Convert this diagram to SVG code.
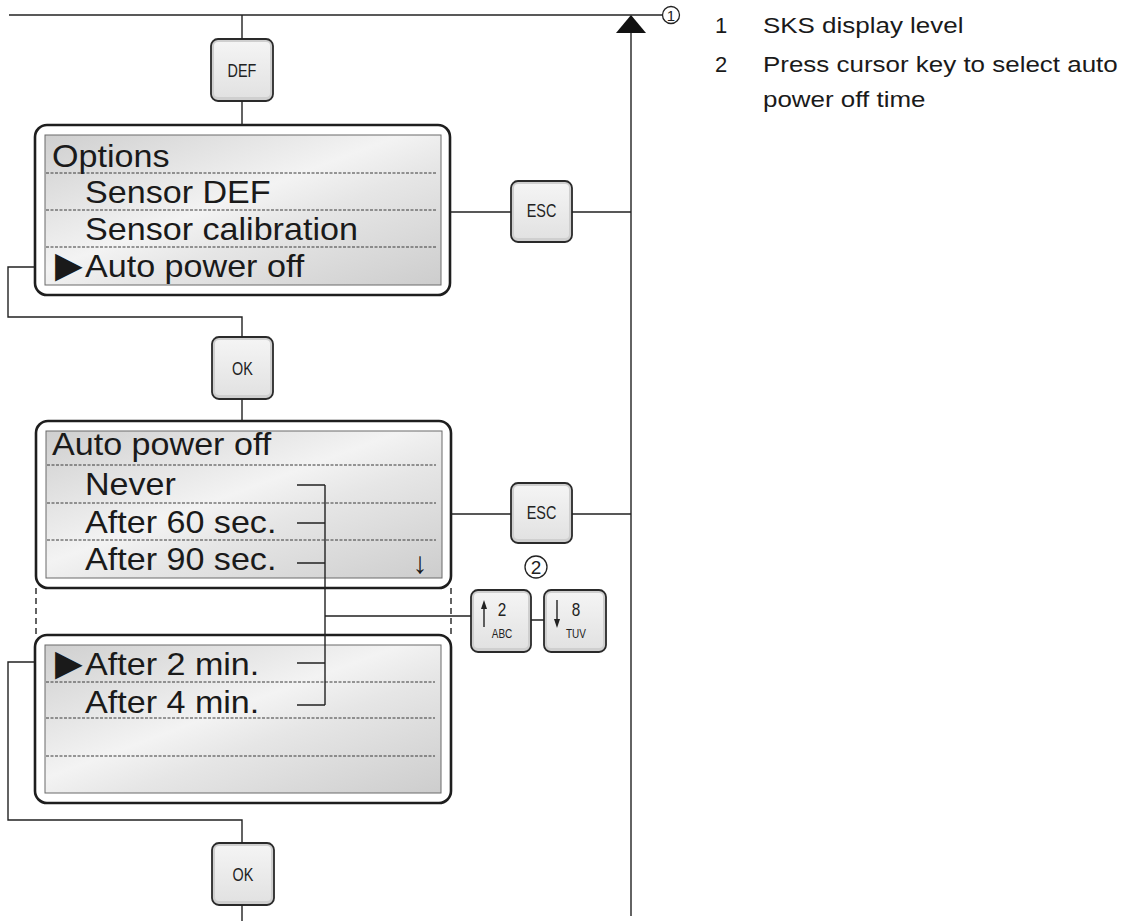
<svg xmlns="http://www.w3.org/2000/svg" width="1139" height="921" viewBox="0 0 1139 921">
<defs>
<linearGradient id="lcdg" x1="0" y1="0" x2="1" y2="1">
<stop offset="0" stop-color="#cfcfcf"/>
<stop offset="0.45" stop-color="#f3f3f3"/>
<stop offset="0.6" stop-color="#e6e6e6"/>
<stop offset="1" stop-color="#cdcdcd"/>
</linearGradient>
<linearGradient id="keyg" x1="0" y1="0" x2="0" y2="1">
<stop offset="0" stop-color="#f4f4f4"/>
<stop offset="1" stop-color="#e2e2e2"/>
</linearGradient>
<style>
.ln{stroke:#222;stroke-width:1.4;fill:none}
.dash{stroke:#222;stroke-width:1.4;fill:none;stroke-dasharray:6 4}
.frame{fill:#fff;stroke:#1e1e1e;stroke-width:2.6}
.scr{fill:url(#lcdg);stroke:#6a6a6a;stroke-width:1}
.row{stroke:#3a3a3a;stroke-width:1;stroke-dasharray:3 1.5}
.lcd{font-family:"Liberation Sans",Arial,sans-serif;font-size:31px;fill:#1a1a1a}
.ptr{font-family:"DejaVu Sans",sans-serif;font-size:36px;fill:#1a1a1a}
.key{fill:#cfcfcf;stroke:#2a2a2a;stroke-width:1.8}
.keyin{fill:url(#keyg);stroke:none}
.kt{font-family:"Liberation Sans",Arial,sans-serif;font-size:18px;fill:#222;text-anchor:middle}
.ks{font-family:"Liberation Sans",Arial,sans-serif;font-size:12.5px;fill:#222;text-anchor:middle}
.kn{font-family:"Liberation Sans",Arial,sans-serif;font-size:18px;fill:#222;text-anchor:middle}
.leg{font-family:"Liberation Sans",Arial,sans-serif;font-size:22px;fill:#1a1a1a}
.cir{fill:#fff;stroke:#222;stroke-width:1.3}
.ct{font-family:"Liberation Sans",Arial,sans-serif;font-size:15px;fill:#222;text-anchor:middle}
.ct2{font-family:"Liberation Sans",Arial,sans-serif;font-size:19px;fill:#222;text-anchor:middle}
</style>
</defs>
<rect width="1139" height="921" fill="#fff"/>

<g id="callout1">
<circle class="cir" cx="671" cy="15" r="8.5"/>
<text class="ct" x="671" y="20.5">1</text>
</g>
<g id="callout2">
<circle class="cir" cx="536" cy="567" r="11"/>
<text class="ct2" x="536" y="574">2</text>
</g>

<g id="legend">
<text class="leg" x="715" y="33">1</text>
<text class="leg" transform="translate(763 33) scale(1.18 1)">SKS display level</text>
<text class="leg" x="715" y="72">2</text>
<text class="leg" transform="translate(763 72) scale(1.18 1)">Press cursor key to select auto</text>
<text class="leg" transform="translate(763 107) scale(1.18 1)">power off time</text>
</g>

<g id="key-def">
<rect class="key" x="211" y="39" width="62" height="62" rx="7"/>
<rect class="keyin" x="214" y="42" width="56" height="55" rx="4"/>
<text class="kt" transform="translate(242 77) scale(0.8 1)">DEF</text>
</g>

<g id="display-options">
<rect class="frame" x="35" y="125" width="415" height="170" rx="12"/>
<rect class="scr" x="45" y="135" width="396" height="150"/>
<path class="row" d="M46 173 H437 M46 210 H437 M46 247 H437"/>
<text class="lcd" transform="translate(52 167) scale(1.1 1)">Options</text>
<text class="lcd" transform="translate(85 203) scale(1.1 1)">Sensor DEF</text>
<text class="lcd" transform="translate(85 240) scale(1.1 1)">Sensor calibration</text>
<text class="ptr" x="55" y="277">▶</text>
<text class="lcd" transform="translate(85 277) scale(1.1 1)">Auto power off</text>
</g>

<g id="key-esc1">
<rect class="key" x="511" y="181" width="61" height="61" rx="7"/>
<rect class="keyin" x="514" y="184" width="55" height="54" rx="4"/>
<text class="kt" transform="translate(541.5 217) scale(0.8 1)">ESC</text>
</g>

<g id="key-ok1">
<rect class="key" x="212" y="337" width="61" height="62" rx="7"/>
<rect class="keyin" x="215" y="340" width="55" height="55" rx="4"/>
<text class="kt" transform="translate(242.5 375) scale(0.8 1)">OK</text>
</g>

<g id="display-autopower">
<rect class="frame" x="36" y="421" width="415" height="167" rx="12"/>
<rect class="scr" x="46" y="431" width="396" height="147"/>
<path class="row" d="M47 465 H436 M47 503 H436 M47 540 H436"/>
<text class="lcd" transform="translate(52 455) scale(1.1 1)">Auto power off</text>
<text class="lcd" transform="translate(85 495) scale(1.1 1)">Never</text>
<text class="lcd" transform="translate(85 533) scale(1.1 1)">After 60 sec.</text>
<text class="lcd" transform="translate(85 570) scale(1.1 1)">After 90 sec.</text>
<text class="lcd" x="420" y="573" text-anchor="middle" style="font-size:30px">↓</text>
</g>

<g id="key-esc2">
<rect class="key" x="511" y="483" width="61" height="60" rx="7"/>
<rect class="keyin" x="514" y="486" width="55" height="53" rx="4"/>
<text class="kt" transform="translate(541.5 519) scale(0.8 1)">ESC</text>
</g>

<g id="key-up">
<rect class="key" x="471" y="590" width="60" height="62" rx="7"/>
<rect class="keyin" x="474" y="593" width="54" height="55" rx="4"/>
<path class="ln" d="M484 606 V627"/>
<polygon points="484,600 481,609 487,609" fill="#222"/>
<text class="kn" transform="translate(502 616) scale(0.85 1)">2</text>
<text class="ks" transform="translate(502 638) scale(0.8 1)">ABC</text>
</g>

<g id="key-down">
<rect class="key" x="544" y="590" width="62" height="62" rx="7"/>
<rect class="keyin" x="547" y="593" width="56" height="55" rx="4"/>
<path class="ln" d="M557 600 V621"/>
<polygon points="557,628 554,619 560,619" fill="#222"/>
<text class="kn" transform="translate(576 616) scale(0.85 1)">8</text>
<text class="ks" transform="translate(576 638) scale(0.8 1)">TUV</text>
</g>

<g id="display-minutes">
<rect class="frame" x="35" y="635" width="416" height="168" rx="12"/>
<rect class="scr" x="45" y="645" width="396" height="148"/>
<path class="row" d="M46 682 H435 M46 718 H435 M46 756 H435"/>
<text class="ptr" x="55" y="675">▶</text>
<text class="lcd" transform="translate(85 675) scale(1.1 1)">After 2 min.</text>
<text class="lcd" transform="translate(85 713) scale(1.1 1)">After 4 min.</text>
</g>

<g id="key-ok2">
<rect class="key" x="212" y="843" width="62" height="62" rx="7"/>
<rect class="keyin" x="215" y="846" width="56" height="55" rx="4"/>
<text class="kt" transform="translate(243 881) scale(0.8 1)">OK</text>
</g>

<g id="connectors">
<path class="ln" d="M9 15 H662"/>
<path class="ln" d="M242 15 V39 M242 101 V125"/>
<path class="ln" d="M631 28 V916"/>
<polygon points="631,15 616,33 646,33" fill="#111"/>
<path class="ln" d="M450 212 H511 M572 212 H631"/>
<path class="ln" d="M35 267 H8 V317 H242 V337 M242 399 V421"/>
<path class="ln" d="M451 514 H511 M572 514 H631"/>
<path class="ln" d="M297 485 H325 M297 523 H325 M297 563 H325 M297 663 H325 M297 705 H325 M325 485 V705"/>
<path class="ln" d="M325 616 H471 M531 620 H544"/>
<path class="dash" d="M36 588 V635 M451 588 V635"/>
<path class="ln" d="M35 662 H8 V820 H242 V843 M242 905 V921"/>
</g>
</svg>
